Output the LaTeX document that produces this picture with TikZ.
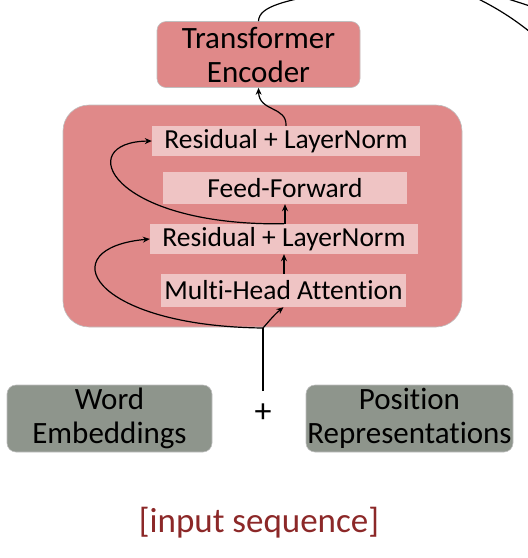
\documentclass[tikz,border=0pt]{standalone}
\usepackage{fontspec}
\setmainfont{Carlito}[Ligatures=NoCommon]
\usetikzlibrary{arrows.meta}
\definecolor{encred}{RGB}{224,137,137}
\definecolor{innerpink}{RGB}{239,196,196}
\definecolor{embgray}{RGB}{142,149,140}
\definecolor{seqred}{RGB}{140,40,40}
\begin{document}
\begin{tikzpicture}[x=1pt,y=-1pt,
  bigtxt/.style={font=\fontsize{31}{34}\selectfont},
  smalltxt/.style={font=\fontsize{27.5}{30}\selectfont},
  redbox/.style={fill=encred, draw=black!25, line width=0.6pt, rounded corners=9pt, inner sep=0pt, align=center, bigtxt},
  bigbox/.style={fill=encred, draw=black!25, line width=0.6pt, rounded corners=26pt, inner sep=0pt},
  layer/.style={fill=innerpink, inner sep=0pt, smalltxt},
  graybox/.style={fill=embgray, draw=black!25, line width=0.6pt, rounded corners=9pt, inner sep=0pt, align=center, bigtxt},
  arr/.style={-{Stealth[length=7pt,width=6pt]}, line width=1.2pt},
  thin/.style={line width=1.2pt}
]
\useasboundingbox (0,0) rectangle (528,558);
\clip (0,0) rectangle (528,558);

% encoder block background
\node[bigbox, minimum width=399pt, minimum height=222pt] (block) at (262.5,216) {};

% layers
\node[layer, minimum width=268pt, minimum height=30pt] (res2) at (286,141) {Residual + LayerNorm};
\node[layer, minimum width=244pt, minimum height=32pt] (ff) at (285,188) {Feed-Forward};
\node[layer, minimum width=268pt, minimum height=30pt] (res1) at (284,239) {Residual + LayerNorm};
\node[layer, minimum width=245pt, minimum height=33pt] (mha) at (283.5,290.5) {Multi-Head Attention};

% transformer encoder
\node[redbox, minimum width=203pt, minimum height=66pt] (te) at (258.5,54.5) {Transformer\\Encoder};

% embeddings
\node[graybox, minimum width=205pt, minimum height=67pt] (we) at (109.5,418.5) {Word\\Embeddings};
\node[graybox, minimum width=207pt, minimum height=67pt] (pr) at (409.5,418.5) {Position\\Representations};
\node[font=\fontsize{34}{36}\selectfont, inner sep=0pt] (plus) at (263,413) {+};
\node[font=\fontsize{35}{38}\selectfont, text=seqred, inner sep=0pt] (seq) at (259,523) {[input sequence]};

% coordinates
\coordinate (b1) at (263,328);
\coordinate (inbot) at (263,391);
\coordinate (outA) at (345,-10);
\coordinate (ra1) at (430,-20);
\coordinate (ra2) at (550,50);
\coordinate (rb1) at (480,-10);
\coordinate (rb2) at (550,14);

% connectors
\draw[line width=2.4pt] (inbot) -- (b1);
\draw[arr] (b1) .. controls (270,320) and (275,314) .. (mha.south);
\draw[arr] (b1) .. controls (90,326) and (50,248) .. (res1.west);
\draw[arr] (mha.north -| res1.south) -- (res1.south);
\draw[arr] (res1.north -| ff.south) -- (ff.south);
\draw[arr] (res1.north) .. controls (110,226) and (72,142) .. (res2.west);
\draw[arr] (res2.north) .. controls (287,106) and (259,112) .. (te.south);
\draw[thin] (te.north) .. controls (259,6) and (285,0) .. (outA);
\draw[thin] (ra1) .. controls (480,-5) and (520,20) .. (ra2);
\draw[thin] (rb1) .. controls (510,0) and (530,5) .. (rb2);
\end{tikzpicture}
\end{document}
